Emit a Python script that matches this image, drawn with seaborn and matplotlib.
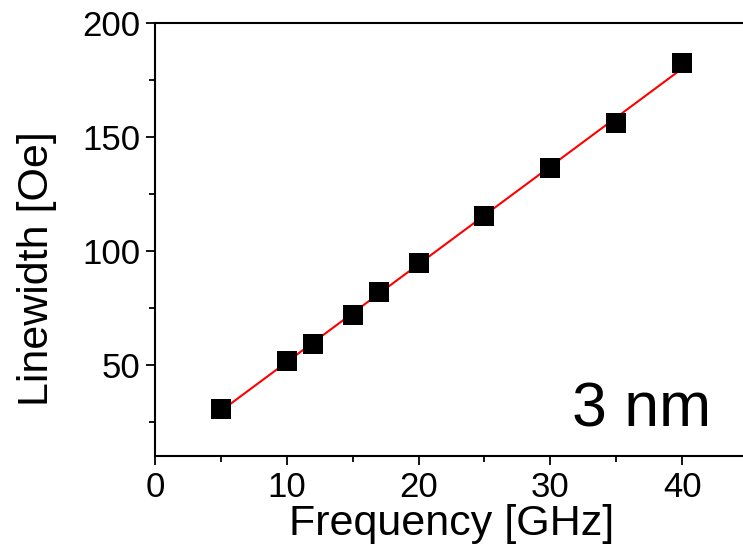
import pandas as pd
import matplotlib.pyplot as plt
import seaborn as sns
from matplotlib.ticker import MultipleLocator

# Linewidth vs frequency
frequency = [5, 10, 12, 15, 17, 20, 25, 30, 35, 40]
linewidth = [30.5, 51.5, 59, 72, 82, 94.5, 115.5, 136.5, 156, 182.5]
sample_label = '3 nm'

df = pd.DataFrame({'Frequency': frequency, 'Linewidth': linewidth})

sns.set_style('ticks')
plt.rcParams['font.family'] = ['Liberation Sans', 'DejaVu Sans']
plt.rcParams.update({'text.color': 'black', 'axes.labelcolor': 'black',
                     'xtick.color': 'black', 'ytick.color': 'black',
                     'axes.edgecolor': 'black'})

fig = plt.figure(figsize=(7.43, 5.48), dpi=100)
ax = fig.add_axes([155 / 743, 1 - 456 / 548, 593 / 743, 433 / 548])

# linear fit drawn by seaborn over the data range
sns.regplot(data=df, x='Frequency', y='Linewidth', ax=ax, scatter=False, ci=None,
            color='red', line_kws={'linewidth': 1.5, 'zorder': 2})
sns.scatterplot(data=df, x='Frequency', y='Linewidth', ax=ax, marker='s', s=205,
                color='black', edgecolor='black', linewidth=0, zorder=3)

ax.set_xlim(0, 45)
ax.set_ylim(10, 200)
ax.xaxis.set_major_locator(MultipleLocator(10))
ax.xaxis.set_minor_locator(MultipleLocator(5))
ax.yaxis.set_major_locator(MultipleLocator(50))
ax.yaxis.set_minor_locator(MultipleLocator(25))
ax.tick_params(which='major', direction='out', length=6.5, width=1.3, labelsize=25, pad=4)
ax.tick_params(which='minor', direction='out', length=4, width=1.3)
ax.tick_params(top=False, right=False)
for side in ['left', 'bottom', 'top']:
    ax.spines[side].set_linewidth(1.5)
    ax.spines[side].set_visible(True)
ax.spines['right'].set_visible(False)

ax.set_xlabel('Frequency [GHz]', fontsize=31, labelpad=0)
ax.set_ylabel('Linewidth [Oe]', fontsize=31)
ax.yaxis.set_label_coords(-0.165, 0.434)

ax.text(0.937, 0.067, sample_label, transform=ax.transAxes, ha='right',
        va='baseline', fontsize=45)

plt.savefig('out.png', dpi=100)
plt.close()
